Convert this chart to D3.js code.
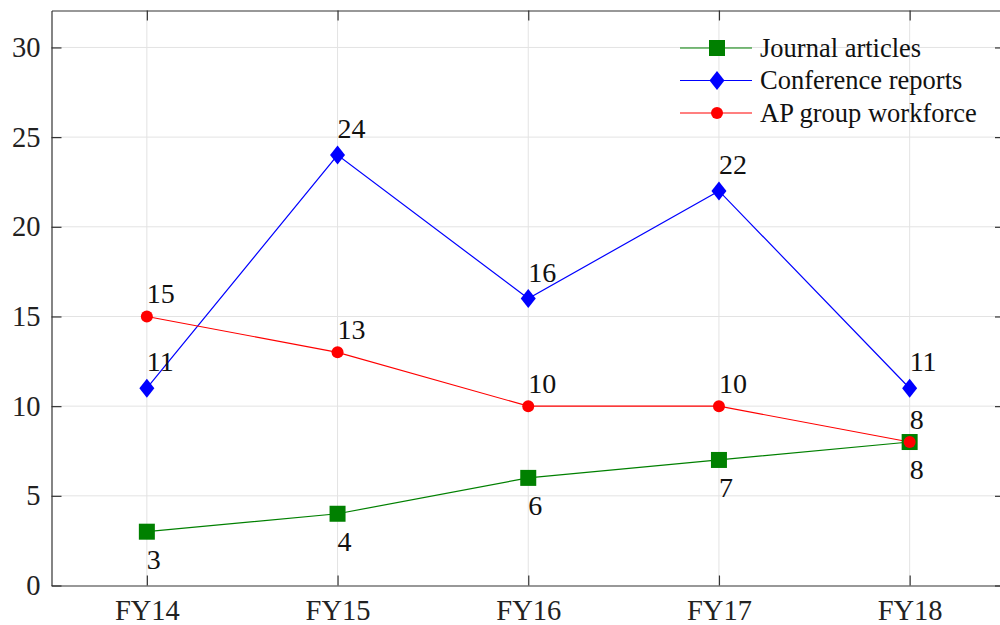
<!DOCTYPE html>
<html><head><meta charset="utf-8">
<script src="https://cdn.jsdelivr.net/npm/d3@7"></script>
<style>body{margin:0;background:#fff}svg{display:block}</style>
</head><body><svg id="c" width="1000" height="625"></svg>
<script>
const categories = ["FY14","FY15","FY16","FY17","FY18"];
const journal = [3,4,6,7,8];
const conference = [11,24,16,22,11];
const workforce = [15,13,10,10,8];
const yTicks = [0,5,10,15,20,25,30];
const seriesNames = ["Journal articles","Conference reports","AP group workforce"];

const FONT = '"Liberation Serif"';
const svg = d3.select("#c");
const L=51.5, T=10.5, B=585.5, R=1005;
const x = d3.scaleLinear().domain([0.5, 5.5]).range([L, R]);
const y = d3.scaleLinear().domain([0, 32.06]).range([B, T]);
const idx = categories.map((c,i)=>i+1);

// grid
const g = svg.append("g");
g.selectAll(".vg").data(idx).enter().append("line")
  .attr("x1",d=>x(d)).attr("x2",d=>x(d)).attr("y1",T).attr("y2",B)
  .attr("stroke","#e3e3e3").attr("stroke-width",1);
g.selectAll(".hg").data(yTicks.filter(v=>v>0)).enter().append("line")
  .attr("y1",d=>y(d)).attr("y2",d=>y(d)).attr("x1",L).attr("x2",R)
  .attr("stroke","#e3e3e3").attr("stroke-width",1);

// axes
const ax = d3.axisBottom(x).tickValues(idx).tickFormat((d,i)=>categories[i]).tickSizeInner(-10).tickSizeOuter(0).tickPadding(14);
const axB = svg.append("g").attr("transform",`translate(0,${B})`).call(ax);
const ay = d3.axisLeft(y).tickValues(yTicks).tickSizeInner(-10).tickSizeOuter(0).tickPadding(11);
const axL = svg.append("g").attr("transform",`translate(${L},0)`).call(ay);
const axT = svg.append("g").attr("transform",`translate(0,${T})`).call(d3.axisTop(x).tickValues(idx).tickSizeInner(-10).tickSizeOuter(0).tickFormat(""));
const axR = svg.append("g").attr("transform",`translate(${R},0)`).call(d3.axisRight(y).tickValues(yTicks).tickSizeInner(-10).tickSizeOuter(0).tickFormat(""));
[axB,axL,axT,axR].forEach(a=>{
  a.attr("font-family",null).attr("font-size",null);
  a.selectAll("path.domain").attr("stroke","#333").attr("stroke-width",1.2);
  a.selectAll(".tick line").attr("stroke","#333").attr("stroke-width",1.2);
  a.selectAll("text").style("font-family",FONT).style("font-size","28.5px").attr("fill","#222");
});
axB.selectAll(".tick text").attr("dy","0.71em");

const series = [
  {name:seriesNames[0], vals:journal, color:"#008000", marker:"square", off:37},
  {name:seriesNames[1], vals:conference, color:"#0000ff", marker:"diamond", off:-17},
  {name:seriesNames[2], vals:workforce, color:"#ff0000", marker:"circle", off:-13}
];
function marker(sel, type, color){
  if(type==="square") sel.append("rect").attr("x",-8).attr("y",-8).attr("width",16).attr("height",16).attr("fill",color);
  else if(type==="diamond") sel.append("path").attr("d","M0,-9.5L7.5,0L0,9.5L-7.5,0Z").attr("fill",color);
  else sel.append("circle").attr("r",6).attr("fill",color);
}
const line = d3.line().x((d,i)=>x(i+1)).y(d=>y(d));
series.forEach(s=>{
  svg.append("path").datum(s.vals).attr("d",line).attr("fill","none").attr("stroke",s.color).attr("stroke-width",1.2);
});
series.forEach(s=>{
  s.vals.forEach((v,i)=>{
    marker(svg.append("g").attr("transform",`translate(${x(i+1)},${y(v)})`), s.marker, s.color);
  });
});
series.forEach(s=>{
  s.vals.forEach((v,i)=>{
    svg.append("text").attr("x",x(i+1)).attr("y", y(v)+s.off)
      .style("font-family",FONT).style("font-size","28px").attr("fill","#111").text(v);
  });
});

// legend
const lg = svg.append("g");
series.forEach((s,i)=>{
  const yy = 48 + i*32.5;
  lg.append("line").attr("x1",680).attr("x2",752).attr("y1",yy).attr("y2",yy).attr("stroke",s.color).attr("stroke-width",1.2);
  marker(lg.append("g").attr("transform",`translate(717,${yy})`), s.marker, s.color);
  lg.append("text").attr("x",760).attr("y",yy).attr("dy","0.33em").style("font-family",FONT).style("font-size","26.5px").attr("fill","#111").text(s.name);
});
</script></body></html>
